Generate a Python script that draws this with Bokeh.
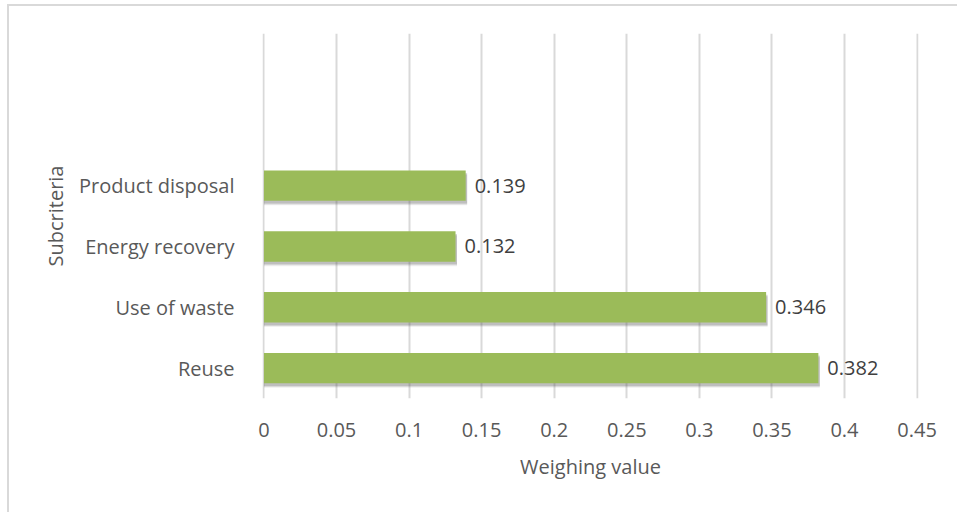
from bokeh.plotting import figure
from bokeh.models import FactorRange, ColumnDataSource, Range1d, FixedTicker
from bokeh.transform import dodge
from bokeh.core.properties import value
from bokeh.embed import file_html
from bokeh.resources import INLINE

categories = ["Reuse", "Use of waste", "Energy recovery", "Product disposal"]
weights = [0.382, 0.346, 0.132, 0.139]
labels = ["0.382", "0.346", "0.132", "0.139"]
x_ticks = [0, 0.05, 0.1, 0.15, 0.2, 0.25, 0.3, 0.35, 0.4, 0.45]
x_tick_labels = ["0", "0.05", "0.1", "0.15", "0.2", "0.25", "0.3", "0.35", "0.4", "0.45"]
empty_slots = ["", " "]

FONT = "Open Sans"
src = ColumnDataSource(dict(cat=categories, w=weights, lab=labels,
                            ws=[v + 0.001 for v in weights]))

p = figure(width=950, height=508, y_range=FactorRange(factors=categories + empty_slots),
           x_range=Range1d(-0.001, 0.451), output_backend="svg", toolbar_location=None,
           min_border_left=253, min_border_right=41, min_border_top=27, min_border_bottom=116)
p.styles = {"margin-left": "7px", "margin-top": "4px",
            "border-left": "2px solid #D9D9D9", "border-top": "2px solid #D9D9D9"}
p.y_range.range_padding = 0
p.outline_line_color = None
p.background_fill_color = "white"

# shadow layers
for off, a in [(-0.075, 0.08), (-0.06, 0.12), (-0.045, 0.18)]:
    p.hbar(y=dodge("cat", off, range=p.y_range), left=0, right="ws", height=0.5,
           source=src, fill_color="#404040", fill_alpha=a, line_color=None)
p.hbar(y="cat", left=0, right="w", height=0.5, source=src,
       fill_color="#9BBB59", line_color=None)
p.text(x="w", y="cat", text="lab", source=src, x_offset=9, text_align="left",
       text_baseline="middle", text_font=value(FONT), text_font_size="20px",
       text_color="#404040")

p.xaxis.ticker = FixedTicker(ticks=x_ticks)
p.xaxis.major_label_overrides = {t: s for t, s in zip(x_ticks, x_tick_labels)}
p.xgrid.ticker = FixedTicker(ticks=x_ticks)
p.xgrid.grid_line_color = "#D9D9D9"
p.xgrid.grid_line_width = 2
p.ygrid.grid_line_color = None

for ax in (p.xaxis, p.yaxis):
    ax.axis_line_color = None
    ax.major_tick_line_color = None
    ax.minor_tick_line_color = None
    ax.major_label_text_font = FONT
    ax.major_label_text_font_size = "20px"
    ax.major_label_text_color = "#595959"
    ax.axis_label_text_font = FONT
    ax.axis_label_text_font_size = "20px"
    ax.axis_label_text_color = "#595959"
    ax.axis_label_text_font_style = "normal"

p.xaxis.axis_label = "Weighing value"
p.yaxis.axis_label = "Subcriteria"
p.xaxis.major_label_standoff = 18
p.xaxis.axis_label_standoff = 13
p.yaxis.major_label_standoff = 22
p.yaxis.axis_label_standoff = 7

open("out.html", "w").write(file_html(p, INLINE))
